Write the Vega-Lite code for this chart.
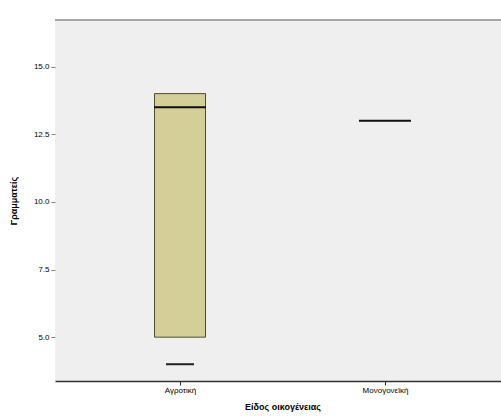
{
  "$schema": "https://vega.github.io/schema/vega-lite/v6.json",
  "width": 455,
  "height": 361,
  "autosize": "none",
  "padding": {"left": 55, "top": 20, "right": 0, "bottom": 38},
  "background": "white",
  "config": {
    "view": {"fill": "#efefef", "stroke": null},
    "font": "Liberation Sans"
  },
  "data": {
    "values": [
      {"type": "Αγροτική", "q1": 5.0, "median": 13.5, "q3": 14.0, "low": 4.0},
      {"type": "Μονογονεϊκή", "median": 13.0}
    ]
  },
  "encoding": {
    "x": {
      "field": "type",
      "type": "nominal",
      "sort": null,
      "scale": {"type": "point", "padding": 0.61},
      "axis": {
        "title": "Είδος οικογένειας",
        "titleFontSize": 9,
        "titleFontWeight": "bold",
        "titleColor": "#000",
        "titlePadding": 8,
        "labelAngle": 0,
        "labelFontSize": 8,
        "labelColor": "#000",
        "labelPadding": 1,
        "domainColor": "#333",
        "domainWidth": 1.5,
        "tickColor": "#333",
        "tickSize": 4,
        "grid": false
      }
    }
  },
  "layer": [
    {
      "mark": {"type": "rule", "color": "#a6a6a6", "strokeWidth": 2},
      "encoding": {"y": {"datum": 16.72}, "x": null}
    },
    {
      "mark": {"type": "bar", "size": 51, "fill": "#d4cf98", "stroke": "#4f4d2c", "strokeWidth": 1, "opacity": 1},
      "encoding": {
        "y": {
          "field": "q1",
          "type": "quantitative",
          "scale": {"domain": [3.38, 16.72], "nice": false, "zero": false},
          "axis": {
            "title": "Γραμματείς",
            "titleFontSize": 9,
            "titleFontWeight": "bold",
            "titleColor": "#000",
            "titlePadding": 15,
            "values": [5, 7.5, 10, 12.5, 15],
            "format": ".1f",
            "labelFontSize": 8,
            "labelColor": "#000",
            "labelPadding": 2,
            "tickColor": "#888",
            "tickSize": 4,
            "domain": false,
            "grid": false
          }
        },
        "y2": {"field": "q3"}
      }
    },
    {
      "mark": {"type": "tick", "size": 52, "thickness": 2, "color": "#111", "opacity": 1},
      "encoding": {"y": {"field": "median", "type": "quantitative"}}
    },
    {
      "mark": {"type": "tick", "size": 28, "thickness": 2, "color": "#222", "opacity": 1},
      "encoding": {"y": {"field": "low", "type": "quantitative"}}
    }
  ]
}
